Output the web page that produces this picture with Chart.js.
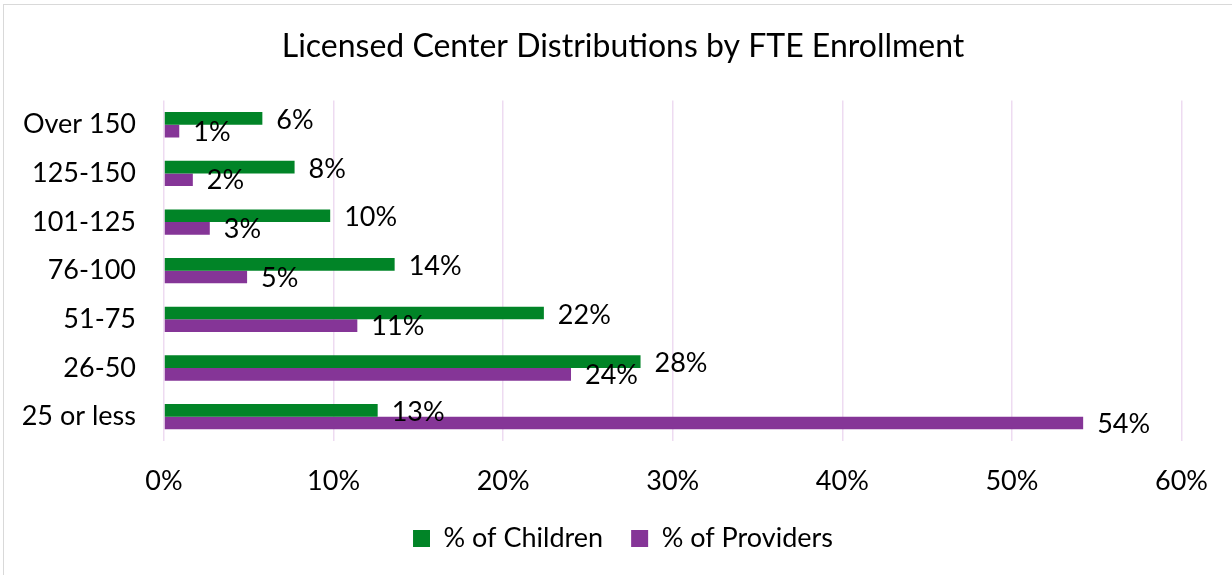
<!DOCTYPE html>
<html>
<head>
<meta charset="utf-8">
<script src="https://cdn.jsdelivr.net/npm/chart.js@4/dist/chart.umd.min.js"></script>
<style>
    html, body { margin: 0; padding: 0; background: #fff; }
    #wrap { position: relative; width: 1232px; height: 575px; overflow: hidden; }
    #frame { position: absolute; left: 3px; top: 4px; width: 1260px; height: 600px; border: 1px solid #d9d9d9; box-sizing: border-box; }
    canvas { position: absolute; left: 0; top: 0; }
</style>
</head>
<body>
<div id="wrap">
    <div id="frame"></div>
    <canvas id="chart" width="1232" height="575"></canvas>
</div>
<script>
// Enrollment buckets, top to bottom
const categories = ['Over 150', '125-150', '101-125', '76-100', '51-75', '26-50', '25 or less'];

// Percent values
const childrenPct = [5.8, 7.7, 9.8, 13.6, 22.4, 28.1, 12.6];
const providersPct = [0.9, 1.7, 2.7, 4.9, 11.4, 24.0, 54.2];

const xTicks = [0, 10, 20, 30, 40, 50, 60];

const GREEN = '#018427';
const PURPLE = '#853597';
const FONT = 'Lato, "Open Sans", sans-serif';

// Simple value labels drawn just past the end of each bar
const barLabels = {
    id: 'barLabels',
    afterDatasetsDraw(chart) {
        const ctx = chart.ctx;
        ctx.save();
        ctx.font = '27px ' + FONT;
        ctx.fillStyle = '#000';
        ctx.textAlign = 'left';
        ctx.textBaseline = 'middle';
        chart.data.datasets.forEach((ds, i) => {
            const meta = chart.getDatasetMeta(i);
            meta.data.forEach((bar, j) => {
                const dy = i === 0 ? 2 : 1;
                ctx.fillText(Math.round(ds.data[j]) + '%', bar.x + 14, bar.y + dy);
            });
        });
        ctx.restore();
    }
};

new Chart(document.getElementById('chart'), {
    type: 'bar',
    data: {
        labels: categories,
        datasets: [
            {
                label: '% of Children',
                data: childrenPct,
                backgroundColor: GREEN,
                borderWidth: 0,
                categoryPercentage: 0.52,
                barPercentage: 1
            },
            {
                label: '% of Providers',
                data: providersPct,
                backgroundColor: PURPLE,
                borderWidth: 0,
                categoryPercentage: 0.52,
                barPercentage: 1
            }
        ]
    },
    options: {
        indexAxis: 'y',
        responsive: false,
        animation: false,
        layout: { padding: { left: 14, right: 0, top: 0, bottom: 13 } },
        plugins: {
            title: {
                display: true,
                text: 'Licensed Center Distributions by FTE Enrollment',
                color: '#000',
                font: { family: FONT, size: 32, weight: 'normal' },
                padding: { top: 27, bottom: 35 }
            },
            legend: {
                position: 'bottom',
                labels: {
                    color: '#000',
                    font: { family: FONT, size: 27 },
                    boxWidth: 17,
                    boxHeight: 17,
                    padding: 28
                }
            },
            tooltip: { enabled: false }
        },
        scales: {
            x: {
                min: 0,
                max: 60,
                afterBuildTicks: (scale) => { scale.ticks = xTicks.map(v => ({ value: v })); },
                afterFit: (scale) => { scale.height = 56; },
                ticks: {
                    color: '#000',
                    font: { family: FONT, size: 27 },
                    padding: 24,
                    callback: (v) => v + '%'
                },
                grid: { color: '#eedbf1', lineWidth: 1.5, drawTicks: false },
                border: { display: false }
            },
            y: {
                afterFit: (scale) => { scale.width = 150; },
                ticks: {
                    color: '#000',
                    font: { family: FONT, size: 27 },
                    padding: 28
                },
                grid: { display: false, drawTicks: false },
                border: { display: false }
            },
            // empty spacer on the right so the plot stops at 60%
            yRight: {
                type: 'category',
                position: 'right',
                afterFit: (scale) => { scale.width = 45; },
                ticks: { display: false },
                grid: { display: false, drawTicks: false },
                border: { display: false }
            }
        }
    },
    plugins: [barLabels]
});
</script>
</body>
</html>
